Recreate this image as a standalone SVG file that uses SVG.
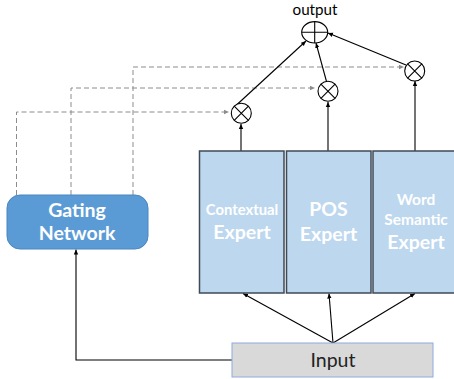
<svg xmlns="http://www.w3.org/2000/svg" width="454" height="379" viewBox="0 0 454 379">
<defs>
<style>
.expert{fill:#bdd7ee;stroke:#3f4a55;stroke-width:1.5}
.wt{fill:#fff;font-family:"Lato","Open Sans",sans-serif;font-weight:bold;text-anchor:middle}
.ln{stroke:#000;stroke-width:1.1;fill:none}
.dash{stroke:#8c8c8c;stroke-width:1;fill:none;stroke-dasharray:5,3}
.op{fill:#fff;stroke:#000;stroke-width:1.1}
</style>
<marker id="ah" markerWidth="6" markerHeight="6" refX="5" refY="3" orient="auto" markerUnits="userSpaceOnUse">
<path d="M0,0.8 L5,3 L0,5.2 Z" fill="#000"/>
</marker>
<marker id="ahg" markerWidth="6" markerHeight="6" refX="5" refY="3" orient="auto" markerUnits="userSpaceOnUse">
<path d="M0,0.8 L5,3 L0,5.2 Z" fill="#8c8c8c"/>
</marker>
</defs>
<g id="connectors">
<path class="dash" d="M16.5,195 V112 H229" marker-end="url(#ahg)"/>
<path class="dash" d="M71,195 V88 H315" marker-end="url(#ahg)"/>
<path class="dash" d="M133,195 V67 H404" marker-end="url(#ahg)"/>
<line class="ln" x1="241" y1="151" x2="241" y2="124" marker-end="url(#ah)"/>
<line class="ln" x1="328" y1="151" x2="328" y2="102" marker-end="url(#ah)"/>
<line class="ln" x1="415" y1="151" x2="415" y2="81" marker-end="url(#ah)"/>
<line class="ln" x1="236.5" y1="105" x2="306" y2="41" marker-end="url(#ah)"/>
<line class="ln" x1="326.5" y1="81.5" x2="316" y2="43" marker-end="url(#ah)"/>
<line class="ln" x1="406" y1="65" x2="328" y2="33" marker-end="url(#ah)"/>
<line class="ln" x1="333" y1="343" x2="243" y2="293.5" marker-end="url(#ah)"/>
<line class="ln" x1="333" y1="343" x2="329" y2="293.5" marker-end="url(#ah)"/>
<line class="ln" x1="333" y1="343" x2="415" y2="293.5" marker-end="url(#ah)"/>
<path class="ln" d="M232,360 H76 V249.5" marker-end="url(#ah)" stroke="#333"/>
</g>
<g id="gating">
<rect x="7" y="195" width="141" height="54" rx="13" fill="#5b9bd5" stroke="#4a86c0" stroke-width="1"/>
<text class="wt" x="77" y="216.5" font-size="19.5">Gating</text>
<text class="wt" x="77" y="240" font-size="19.5">Network</text>
</g>
<g id="contextual">
<rect class="expert" x="199.5" y="151" width="84.5" height="142"/>
<text class="wt" x="242" y="215" font-size="14.8">Contextual</text>
<text class="wt" x="242" y="239" font-size="19.5">Expert</text>
</g>
<g id="pos">
<rect class="expert" x="286.5" y="151" width="84.5" height="142"/>
<text class="wt" x="328.5" y="216" font-size="19.5">POS</text>
<text class="wt" x="328.5" y="240.5" font-size="19.5">Expert</text>
</g>
<g id="word">
<rect class="expert" x="373" y="151" width="90" height="142"/>
<text class="wt" x="416" y="205" font-size="15.5">Word</text>
<text class="wt" x="416" y="225" font-size="15.5">Semantic</text>
<text class="wt" x="416" y="249" font-size="19.5">Expert</text>
</g>
<g id="input">
<rect x="232" y="343" width="201" height="34" fill="#d9d9d9" stroke="#8faadc" stroke-width="1"/>
<text x="333" y="366.5" font-family="Lato,'Open Sans',sans-serif" font-size="19.5" text-anchor="middle" fill="#222">Input</text>
</g>
<g id="mul1">
<circle class="op" cx="241.3" cy="113.3" r="10"/>
<path class="ln" d="M234.2,106.2 L248.4,120.4 M248.4,106.2 L234.2,120.4"/>
</g>
<g id="mul2">
<circle class="op" cx="328" cy="91.3" r="10"/>
<path class="ln" d="M320.9,84.2 L335.1,98.4 M335.1,84.2 L320.9,98.4"/>
</g>
<g id="mul3">
<circle class="op" cx="414.7" cy="71" r="10"/>
<path class="ln" d="M407.6,63.9 L421.8,78.1 M421.8,63.9 L407.6,78.1"/>
</g>
<g id="output">
<ellipse class="op" cx="314.7" cy="32.3" rx="13" ry="10.7"/>
<path class="ln" d="M301.7,32.3 H327.7 M314.7,21.6 V43"/>
<text x="315" y="15" font-family="Lato,'Open Sans',sans-serif" font-size="15.2" text-anchor="middle" fill="#000">output</text>
</g>
</svg>
